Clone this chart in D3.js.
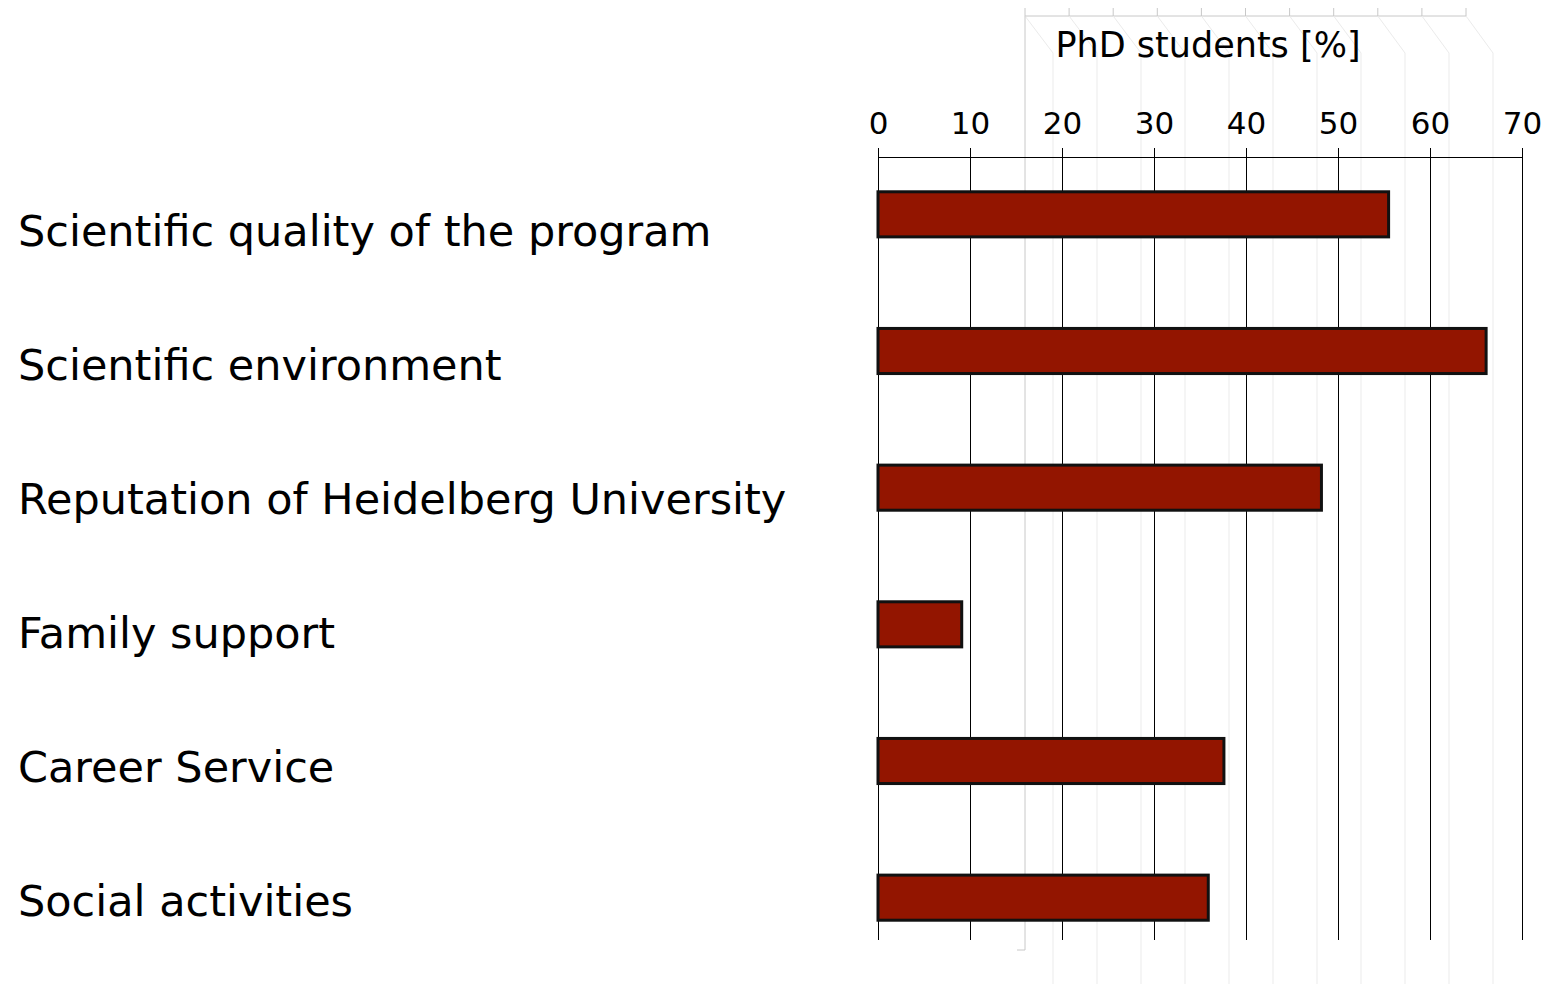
<!DOCTYPE html>
<html>
<head>
<meta charset="utf-8">
<script src="https://cdn.jsdelivr.net/npm/d3@7"></script>
<style>
  body { margin: 0; background: #fff; }
  text { font-family: "DejaVu Sans", Verdana, sans-serif; fill: #000; }
</style>
</head>
<body>
<div id="chart"></div>
<script>
/////////// DATOS /////////
var categorias = ["Scientific quality of the program", "Scientific environment",
  "Reputation of Heidelberg University", "Family support", "Career Service", "Social activities"];
var valores = [55.5, 66.1, 48.2, 9.1, 37.6, 35.9];
var ticksX = [0, 10, 20, 30, 40, 50, 60, 70];
var tituloX = "PhD students [%]";
// eje fantasma (artefacto de la imagen original)
var ticksFantasma = [0, 1, 2, 3, 4, 5, 6, 7, 8, 9, 10];

/////////// LIENZO /////////
var W = 1558, H = 984;
var svg = d3.select("#chart").append("svg")
  .attr("width", W)
  .attr("height", H);

/////////// ESCALAS /////////
var x = d3.scaleLinear().domain([0, 70]).range([878, 1522]);
var y = d3.scaleBand().domain(categorias).range([146, 966]).paddingInner(0.67).paddingOuter(0.335);
var yLabel = d3.scalePoint().domain(categorias).range([231, 901]);
var axisY = 157, gridBottom = 940;

/////////// FANTASMA /////////
var gx = d3.scaleLinear().domain([0, 10]).range([1025, 1466]);
var gxLow = d3.scaleLinear().domain([0, 10]).range([1053, 1493]);
var ghost = svg.append("g").attr("fill", "none").attr("stroke-width", 1);
ghost.append("line")
  .attr("x1", gx(0)).attr("x2", gx(10)).attr("y1", 16).attr("y2", 16)
  .attr("stroke", "#c8c8c8");
ghost.selectAll(".gt").data(ticksFantasma).enter().append("line")
  .attr("x1", function(d) { return gx(d); }).attr("x2", function(d) { return gx(d); })
  .attr("y1", 8).attr("y2", 16).attr("stroke", "#c8c8c8");
ghost.selectAll(".gp").data(ticksFantasma).enter().append("path")
  .attr("stroke", "#ebebeb")
  .attr("d", function(d) {
    return "M" + gx(d) + ",16L" + gxLow(d) + ",53L" + gxLow(d) + "," + H;
  });
ghost.append("path")
  .attr("stroke", "#c8c8c8")
  .attr("d", "M" + gx(0) + ",16L" + gx(0) + ",950L" + (gx(0) - 8) + ",950");

/////////// GRID /////////
svg.append("g")
  .selectAll("line").data(ticksX).enter().append("line")
  .attr("x1", function(d) { return x(d); }).attr("x2", function(d) { return x(d); })
  .attr("y1", axisY - 9).attr("y2", gridBottom)
  .attr("stroke", "#000").attr("stroke-width", 1)
  .attr("shape-rendering", "crispEdges");

/////////// EJE X /////////
var eje = svg.append("g")
  .attr("transform", "translate(0," + axisY + ")")
  .call(d3.axisTop(x).tickValues(ticksX).tickSize(0).tickPadding(23));
eje.select(".domain").attr("stroke", "#000").attr("shape-rendering", "crispEdges");
eje.selectAll("text")
  .attr("font-size", "31px")
  .attr("font-family", "DejaVu Sans, Verdana, sans-serif")
  .attr("fill", "#000");

svg.append("text")
  .attr("x", 1208).attr("y", 57)
  .attr("text-anchor", "middle")
  .attr("font-size", "35px")
  .text(tituloX);

/////////// BARRAS /////////
svg.append("g")
  .selectAll("rect").data(valores).enter().append("rect")
  .attr("x", x(0))
  .attr("y", function(d, i) { return y(categorias[i]); })
  .attr("width", function(d) { return x(d) - x(0); })
  .attr("height", y.bandwidth())
  .attr("fill", "#931500")
  .attr("stroke", "#111")
  .attr("stroke-width", 3);

/////////// ETIQUETAS /////////
svg.append("g")
  .selectAll("text").data(categorias).enter().append("text")
  .attr("x", 18)
  .attr("y", function(d) { return yLabel(d); })
  .attr("dy", "0.35em")
  .attr("font-size", "43px")
  .text(function(d) { return d; });
</script>
</body>
</html>
